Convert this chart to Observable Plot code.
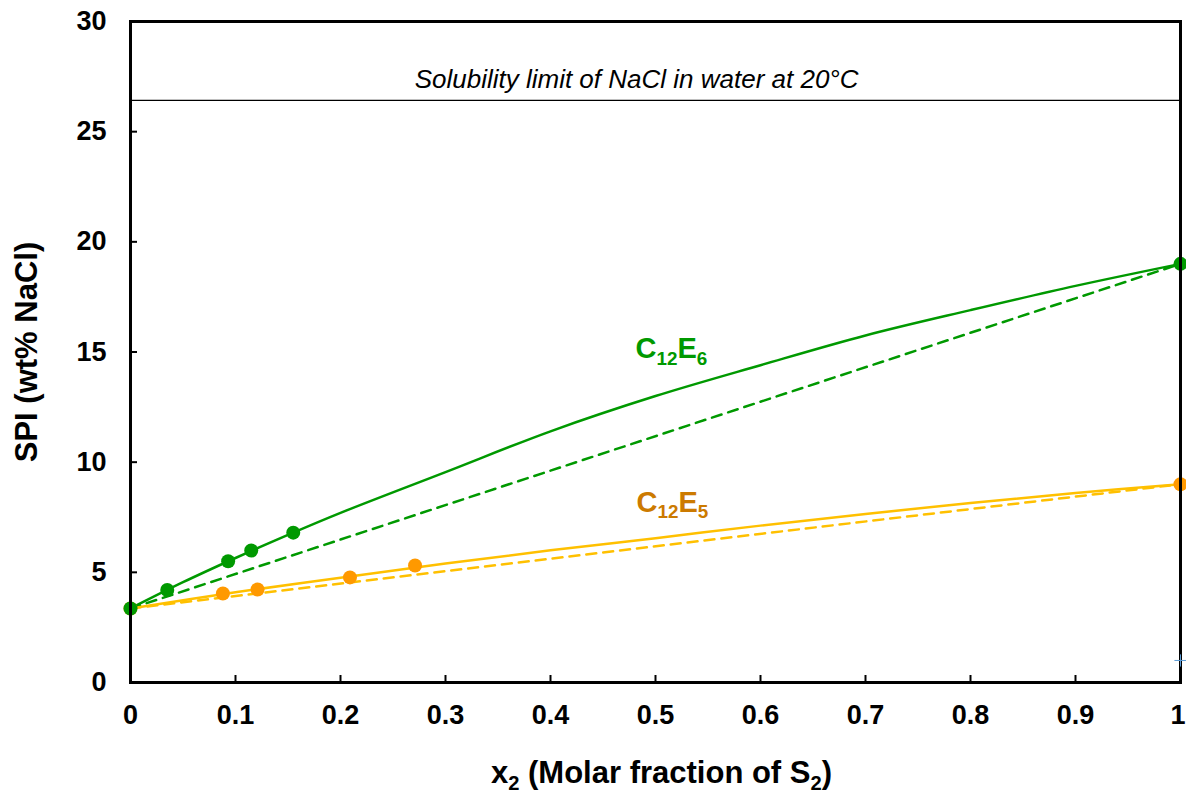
<!DOCTYPE html>
<html>
<head>
<meta charset="utf-8">
<script src="https://cdn.jsdelivr.net/npm/d3@7"></script>
<script src="https://cdn.jsdelivr.net/npm/@observablehq/plot@0.6"></script>
<style>
  body { margin: 0; background: #fff; }
  #chart svg { font-family: "Liberation Sans", Arial, sans-serif; }
</style>
</head>
<body>
<div id="chart"></div>
<script>
// ---- data ----
const c12e6Points_x = [0, 0.035, 0.093, 0.115, 0.155, 1];
const c12e6Points_y = [3.36, 4.2, 5.5, 5.99, 6.8, 19.0];
const c12e5Points_x = [0, 0.088, 0.121, 0.209, 0.271, 1];
const c12e5Points_y = [3.36, 4.04, 4.22, 4.77, 5.31, 9.0];

const curveX = [0, 0.05, 0.1, 0.15, 0.2, 0.3, 0.4, 0.5, 0.6, 0.7, 0.8, 0.9, 1];
const c12e6Curve = [3.36, 4.55, 5.65, 6.7, 7.7, 9.55, 11.4, 13.0, 14.4, 15.75, 16.9, 18.0, 19.0];
const c12e5CurveX = [0, 0.1, 0.2, 0.3, 0.4, 0.5, 0.6, 0.7, 0.8, 0.9, 1];
const c12e5Curve = [3.36, 4.1, 4.75, 5.4, 6.0, 6.55, 7.12, 7.65, 8.15, 8.6, 9.0];

const idealX = [0, 1];
const c12e6Ideal = [3.36, 19.0];
const c12e5Ideal = [3.36, 9.0];

const solubilityLimit = 26.42;
const solubilityText = "Solubility limit of NaCl in water at 20°C";
const stray = [{x: 1, y: 1.0}];

const xTicks = [0, 0.1, 0.2, 0.3, 0.4, 0.5, 0.6, 0.7, 0.8, 0.9];
const xTickLast = [1];
const yTicks = [0, 5, 10, 15, 20, 25, 30];

const labels = [
  {x: 0.481, y: 15.15, text: "C_{12}E_{6}", color: "#009900"},
  {x: 0.482, y: 8.17, text: "C_{12}E_{5}", color: "#CC7A00"}
];

const GREEN = "#009900", ORANGE_DOT = "#FF9900", ORANGE_LINE = "#FFC000";

const zip = (xs, ys) => xs.map((x, i) => ({x, y: ys[i]}));
const fmt = d => d3.format("~g")(d);

const plot = Plot.plot({
  width: 1186,
  height: 793,
  marginLeft: 130,
  marginRight: 6,
  marginTop: 21,
  marginBottom: 111,
  x: {domain: [0, 1], label: null},
  y: {domain: [0, 30], label: null},
  style: {fontFamily: '"Liberation Sans", Arial, sans-serif', background: "#fff"},
  marks: [
    Plot.ruleY([solubilityLimit], {stroke: "black", strokeWidth: 1.3}),
    Plot.text([solubilityText], {x: 0.482, y: solubilityLimit, textAnchor: "middle", lineAnchor: "middle", dy: -21, fontSize: 26, fontStyle: "italic", fill: "black"}),
    // ideal mixing (dashed)
    Plot.line(zip(idealX, c12e5Ideal), {x: "x", y: "y", stroke: ORANGE_LINE, strokeWidth: 2.5, strokeDasharray: "10,7"}),
    Plot.line(zip(idealX, c12e6Ideal), {x: "x", y: "y", stroke: GREEN, strokeWidth: 2.5, strokeDasharray: "10,7"}),
    // model curves
    Plot.line(zip(c12e5CurveX, c12e5Curve), {x: "x", y: "y", stroke: ORANGE_LINE, strokeWidth: 2.5, curve: "catmull-rom"}),
    Plot.line(zip(curveX, c12e6Curve), {x: "x", y: "y", stroke: GREEN, strokeWidth: 2.5, curve: "catmull-rom"}),
    // data points
    Plot.dot(zip(c12e5Points_x, c12e5Points_y), {x: "x", y: "y", r: 7, fill: ORANGE_DOT}),
    Plot.dot(zip(c12e6Points_x, c12e6Points_y), {x: "x", y: "y", r: 7, fill: GREEN}),
    // series labels
    Plot.text(labels, {x: "x", y: "y", text: "text", fill: "color", textAnchor: "start", lineAnchor: "middle", fontSize: 29, fontWeight: "bold"}),
    // axes: ticks (inward)
    Plot.axisY({ticks: yTicks, tickSize: 7, dx: 7, tickFormat: () => "", label: null, stroke: "black", strokeWidth: 2}),
    Plot.axisX({ticks: xTicks, tickSize: 7, dy: -7, tickFormat: () => "", label: null, stroke: "black", strokeWidth: 2}),
    // axes: labels
    Plot.axisY({ticks: yTicks, tickSize: 0, tickPadding: 24, label: null, fontSize: 27, fontWeight: "bold", fill: "black"}),
    Plot.axisX({ticks: xTicks, tickSize: 0, tickPadding: 22, label: null, fontSize: 27, fontWeight: "bold", fill: "black", tickFormat: fmt}),
    Plot.axisX({ticks: xTickLast, tickSize: 0, tickPadding: 22, label: null, fontSize: 27, fontWeight: "bold", fill: "black", tickFormat: fmt, textAnchor: "end", dx: 5}),
    Plot.frame({stroke: "black", strokeWidth: 3}),
    Plot.dot(stray, {x: "x", y: "y", symbol: "plus", r: 4, stroke: "#5B9BD5", strokeWidth: 1}),
    // axis titles
    Plot.text(["x_{2} (Molar fraction of S_{2})"], {frameAnchor: "bottom", dx: 6, dy: 91, textAnchor: "middle", lineAnchor: "middle", fontSize: 31, fontWeight: "bold", fill: "black"}),
    Plot.text(["SPI (wt% NaCl)"], {frameAnchor: "left", dx: -103, rotate: -90, textAnchor: "middle", lineAnchor: "middle", fontSize: 31, fontWeight: "bold", fill: "black"})
  ]
});

// convert _{...} into subscript tspans
d3.select(plot).selectAll("text").each(function() {
  const el = this;
  const s = el.textContent;
  if (!s.includes("_{")) return;
  el.textContent = "";
  const re = /_\{([^}]*)\}/g;
  let last = 0, m;
  const ns = "http://www.w3.org/2000/svg";
  let pendingUp = false;
  const add = (txt, sub) => {
    if (!txt) return;
    const t = document.createElementNS(ns, "tspan");
    t.textContent = txt;
    if (sub) {
      t.setAttribute("font-size", "65%");
      t.setAttribute("dy", "0.35em");
      pendingUp = true;
    } else if (pendingUp) {
      t.setAttribute("dy", "-0.2275em");
      pendingUp = false;
    }
    el.appendChild(t);
  };
  while ((m = re.exec(s))) {
    add(s.slice(last, m.index), false);
    add(m[1], true);
    last = m.index + m[0].length;
  }
  add(s.slice(last), false);
});

document.getElementById("chart").appendChild(plot);
</script>
</body>
</html>
